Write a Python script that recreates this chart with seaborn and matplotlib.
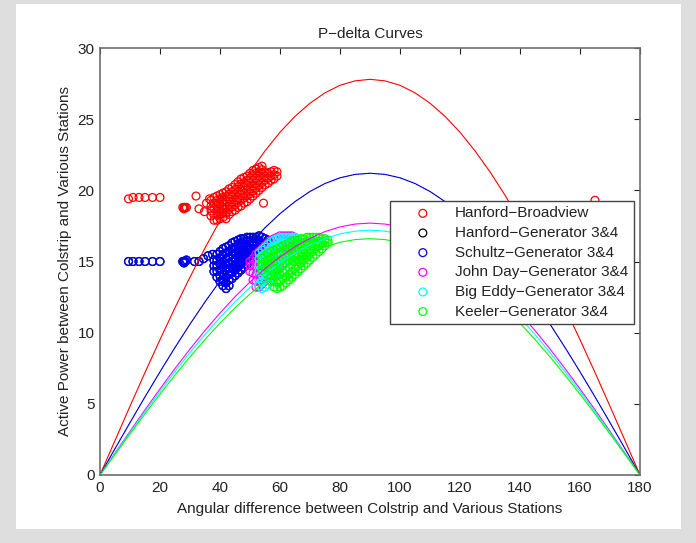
"""
P-delta curves with measured operating points
"""

import matplotlib
matplotlib.use("Agg")
import matplotlib.pyplot as plt
from matplotlib.patches import Rectangle
import seaborn as sns

sns.set_style("white")
plt.rcParams['font.family'] = ['Liberation Sans', 'DejaVu Sans']

# angle grid for the P-delta curves (degrees), 0..90 then mirrored
delta_half = [0, 5, 10, 15, 20, 25, 30, 35, 40, 45,
              50, 55, 60, 65, 70, 75, 80, 85, 90]
delta = delta_half + [180 - d for d in reversed(delta_half[:-1])]

# curve values (MW), rising half; curves are symmetric
half_broadview = [0, 2.42, 4.83, 7.2, 9.51, 11.75, 13.9, 15.95, 17.87, 19.66,
                  21.3, 22.77, 24.08, 25.2, 26.12, 26.85, 27.38, 27.69, 27.8]
half_hanford = [0, 1.85, 3.68, 5.49, 7.25, 8.96, 10.6, 12.16, 13.63, 14.99,
                16.24, 17.37, 18.36, 19.21, 19.92, 20.48, 20.88, 21.12, 21.2]
half_schultz = half_hanford
half_johnday = [0, 1.54, 3.07, 4.58, 6.05, 7.48, 8.85, 10.15, 11.38, 12.52,
                13.56, 14.5, 15.33, 16.04, 16.63, 17.1, 17.43, 17.63, 17.7]
half_bigeddy = [0, 1.5, 2.99, 4.45, 5.88, 7.27, 8.6, 9.87, 11.06, 12.16,
                13.18, 14.09, 14.9, 15.59, 16.16, 16.61, 16.94, 17.13, 17.2]
half_keeler = [0, 1.45, 2.88, 4.3, 5.68, 7.02, 8.3, 9.52, 10.67, 11.74,
               12.72, 13.6, 14.38, 15.04, 15.6, 16.03, 16.35, 16.54, 16.6]

# measured points, grouped by angle column: (angle, [powers])
red_pts = [(9.5, [19.4]), (11.0, [19.5]), (13.0, [19.5]), (15.0, [19.5]),
           (17.5, [19.5]), (20.0, [19.5]),
           (27.6, [18.8]), (28.0, [18.7, 18.8]), (28.4, [18.8]), (28.8, [18.8]),
           (32.0, [19.6]), (33.0, [18.7]), (34.8, [18.5]), (35.5, [19.1]),
           (36.5, [19.4]),
           (37.0, [18.2, 18.55, 18.9, 19.3]),
           (38.0, [17.9, 18.3, 18.7, 19.1, 19.5]),
           (39.0, [17.9, 18.25, 18.6, 18.95, 19.3, 19.6]),
           (40.0, [18.0, 18.35, 18.7, 19.05, 19.4, 19.7]),
           (41.0, [18.1, 18.45, 18.8, 19.15, 19.5, 19.8]),
           (42.0, [18.0, 18.4, 18.8, 19.2, 19.55, 19.9]),
           (43.0, [18.3, 18.65, 19.0, 19.4, 19.75, 20.1]),
           (44.0, [18.5, 18.85, 19.2, 19.55, 19.9, 20.2]),
           (45.0, [18.6, 18.95, 19.3, 19.7, 20.05, 20.4]),
           (46.0, [18.8, 19.15, 19.5, 19.9, 20.25, 20.6]),
           (47.0, [18.9, 19.3, 19.7, 20.05, 20.45, 20.8]),
           (48.0, [19.1, 19.45, 19.8, 20.2, 20.55, 20.9]),
           (49.0, [19.2, 19.6, 20.0, 20.35, 20.7, 21.0]),
           (50.0, [19.4, 19.75, 20.1, 20.5, 20.85, 21.2]),
           (51.0, [19.6, 19.95, 20.3, 20.7, 21.05, 21.4]),
           (52.0, [19.8, 20.15, 20.5, 20.85, 21.2, 21.5]),
           (53.0, [20.0, 20.35, 20.7, 21.0, 21.3, 21.6]),
           (54.0, [20.2, 20.55, 20.9, 21.2, 21.45, 21.7]),
           (55.0, [20.4, 20.7, 21.0, 21.3]),
           (56.0, [20.5, 20.85, 21.2]),
           (57.0, [20.7, 21.0, 21.3]),
           (58.0, [20.8, 21.1, 21.4]),
           (59.0, [21.0, 21.3]),
           (54.5, [19.1]), (165.0, [19.3])]

blue_pts = [(9.5, [15.0]), (11.0, [15.0]), (13.0, [15.0]), (15.0, [15.0]),
            (17.5, [15.0]), (20.0, [15.0]),
            (27.6, [15.0]), (28.0, [14.9, 15.0]), (28.4, [15.0]), (28.8, [15.1]),
            (31.5, [15.0]), (33.0, [15.0]), (34.5, [15.2]), (36.0, [15.4]),
            (37.5, [15.5]),
            (38.0, [14.3, 14.7, 15.1]),
            (39.0, [13.9, 14.3, 14.7, 15.1, 15.5]),
            (40.0, [13.6, 14.0, 14.4, 14.8, 15.2, 15.7]),
            (41.0, [13.3, 13.7, 14.1, 14.6, 15.0, 15.5, 15.9]),
            (42.0, [13.1, 13.5, 13.9, 14.4, 14.8, 15.2, 15.6, 16.0]),
            (43.0, [13.3, 13.7, 14.1, 14.5, 14.9, 15.3, 15.7, 16.1]),
            (44.0, [13.8, 14.2, 14.6, 15.0, 15.5, 15.9, 16.3]),
            (45.0, [14.0, 14.4, 14.8, 15.2, 15.6, 16.0, 16.4]),
            (46.0, [14.2, 14.6, 15.0, 15.4, 15.8, 16.2, 16.5]),
            (47.0, [14.4, 14.8, 15.2, 15.6, 16.0, 16.3, 16.6]),
            (48.0, [14.6, 15.0, 15.4, 15.8, 16.2, 16.6]),
            (49.0, [14.8, 15.2, 15.6, 16.0, 16.4, 16.7]),
            (50.0, [15.0, 15.4, 15.8, 16.1, 16.4, 16.7]),
            (51.0, [15.2, 15.6, 15.9, 16.3, 16.7]),
            (52.0, [15.4, 15.8, 16.1, 16.4, 16.7]),
            (53.0, [15.6, 16.0, 16.4, 16.8]),
            (54.0, [15.8, 16.2, 16.7]),
            (55.0, [16.0, 16.3, 16.6]),
            (56.0, [16.2, 16.5])]

# Hanford generator points coincide with Schultz and sit underneath them
black_pts = blue_pts

magenta_pts = [(50.0, [14.3, 14.7, 15.0]),
               (51.0, [13.7, 14.2, 14.7, 15.2]),
               (52.0, [13.2, 13.6, 14.1, 14.6, 15.0, 15.5]),
               (53.0, [13.2, 13.7, 14.2, 14.7, 15.2, 15.7]),
               (54.0, [13.4, 13.9, 14.4, 14.9, 15.4, 15.9]),
               (55.0, [13.6, 14.1, 14.6, 15.1, 15.6, 16.1]),
               (56.0, [13.8, 14.3, 14.8, 15.3, 15.8, 16.3]),
               (57.0, [14.0, 14.5, 15.0, 15.5, 16.0, 16.5]),
               (58.0, [14.3, 14.8, 15.3, 15.8, 16.2, 16.6]),
               (59.0, [14.6, 15.1, 15.6, 16.1, 16.7]),
               (60.0, [14.9, 15.4, 15.9, 16.4, 16.8]),
               (61.0, [15.2, 15.7, 16.2, 16.8]),
               (62.0, [15.5, 16.0, 16.4, 16.8]),
               (63.0, [15.8, 16.3, 16.8]),
               (64.0, [16.1, 16.5, 16.8]),
               (65.0, [16.4, 16.7])]

cyan_pts = [(53.0, [13.3, 13.8, 14.3, 14.8, 15.2, 15.6]),
            (54.0, [13.1, 13.6, 14.1, 14.5, 15.0, 15.4, 15.8]),
            (55.0, [13.2, 13.7, 14.1, 14.6, 15.1, 15.5, 16.0]),
            (56.0, [13.4, 13.9, 14.3, 14.8, 15.3, 15.7, 16.2]),
            (57.0, [13.6, 14.1, 14.6, 15.0, 15.5, 16.0, 16.4]),
            (58.0, [13.9, 14.4, 14.8, 15.3, 15.7, 16.1, 16.5]),
            (59.0, [14.2, 14.7, 15.1, 15.6, 16.1, 16.6]),
            (60.0, [14.5, 15.0, 15.4, 15.9, 16.3, 16.7]),
            (61.0, [14.8, 15.3, 15.8, 16.3, 16.7]),
            (62.0, [15.1, 15.6, 16.1, 16.7]),
            (63.0, [15.4, 15.9, 16.3, 16.7]),
            (64.0, [15.7, 16.2, 16.7]),
            (65.0, [16.0, 16.4, 16.7]),
            (66.0, [16.3, 16.6])]

green_pts = [(54.0, [14.4, 14.8, 15.2]),
             (55.0, [14.2, 14.6, 15.0, 15.4]),
             (56.0, [14.0, 14.4, 14.8, 15.2, 15.6]),
             (57.0, [13.6, 14.0, 14.5, 14.9, 15.3, 15.7]),
             (58.0, [13.2, 13.6, 14.1, 14.5, 15.0, 15.4, 15.8]),
             (59.0, [13.1, 13.5, 14.0, 14.4, 14.9, 15.4, 15.9]),
             (60.0, [13.2, 13.6, 14.1, 14.6, 15.1, 15.6, 16.0]),
             (61.0, [13.3, 13.8, 14.2, 14.7, 15.2, 15.7, 16.1]),
             (62.0, [13.5, 13.9, 14.4, 14.9, 15.3, 15.8, 16.2]),
             (63.0, [13.7, 14.1, 14.6, 15.0, 15.5, 15.9, 16.3]),
             (64.0, [13.9, 14.3, 14.8, 15.2, 15.6, 16.0, 16.4]),
             (65.0, [14.1, 14.5, 15.0, 15.4, 15.8, 16.2, 16.5]),
             (66.0, [14.3, 14.7, 15.1, 15.5, 15.9, 16.2, 16.5]),
             (67.0, [14.5, 14.9, 15.3, 15.7, 16.1, 16.6]),
             (68.0, [14.7, 15.1, 15.5, 15.9, 16.3, 16.6]),
             (69.0, [14.9, 15.3, 15.7, 16.1, 16.4, 16.7]),
             (70.0, [15.1, 15.5, 15.9, 16.3, 16.7]),
             (71.0, [15.3, 15.7, 16.1, 16.4, 16.7]),
             (72.0, [15.5, 15.9, 16.3, 16.7]),
             (73.0, [15.7, 16.1, 16.4, 16.7]),
             (74.0, [15.9, 16.3, 16.6]),
             (75.0, [16.1, 16.4, 16.6]),
             (76.0, [16.3, 16.5])]

series_names = ['Hanford\u2212Broadview', 'Hanford\u2212Generator 3&4',
                'Schultz\u2212Generator 3&4', 'John Day\u2212Generator 3&4',
                'Big Eddy\u2212Generator 3&4', 'Keeler\u2212Generator 3&4']


def flatten(cols):
    xs, ys = [], []
    for x, vals in cols:
        for v in vals:
            xs.append(x)
            ys.append(v)
    return xs, ys


def mirror(half):
    return half + list(reversed(half[:-1]))


fig = plt.figure(figsize=(6.96, 5.43), dpi=100, facecolor='#dedede')
# white panel inside the gray frame
fig.patches.append(Rectangle((16 / 696, 14 / 543), 665 / 696, 525 / 543,
                             transform=fig.transFigure, facecolor='white',
                             edgecolor='none', zorder=-10))

ax = fig.add_axes([100 / 696, 68 / 543, 540 / 696, 427 / 543])

colors = ['#ff0000', '#000000', '#0000ff', '#ff00ff', '#00ffff', '#00ff00']
point_sets = [red_pts, black_pts, blue_pts, magenta_pts, cyan_pts, green_pts]
curves = [half_broadview, half_hanford, half_schultz,
          half_johnday, half_bigeddy, half_keeler]

for name, pts, col in zip(series_names, point_sets, colors):
    xs, ys = flatten(pts)
    sns.scatterplot(x=xs, y=ys, ax=ax, marker='o', s=32, facecolors='none',
                    edgecolors=col, linewidths=0.9, label=name, zorder=2)

for half, col in zip(curves, colors):
    if col == '#000000':
        continue
    sns.lineplot(x=delta, y=mirror(half), ax=ax, color=col, linewidth=0.8,
                 estimator=None, sort=False, legend=False, zorder=3)

# the Hanford generator curve shows through the Schultz one as dark dots
sns.lineplot(x=delta, y=mirror(half_hanford), ax=ax, color='#000000',
             linewidth=0.6, linestyle=(0, (1, 2)), alpha=0.6,
             estimator=None, sort=False, legend=False, zorder=4)

ax.set_xlim(0, 180)
ax.set_ylim(0, 30)
ax.set_xticks(range(0, 181, 20))
ax.set_yticks(range(0, 31, 5))
ax.tick_params(direction='in', length=4, width=0.8, top=True, right=True,
               labelsize=11, colors='#222222', pad=4)
for sp in ax.spines.values():
    sp.set_color('#6e6e6e')
    sp.set_linewidth(1.2)

ax.set_title('P\u2212delta Curves', fontsize=11, pad=7, color='#222222')
ax.set_xlabel('Angular difference between Colstrip and Various Stations',
              fontsize=11, labelpad=5, color='#222222')
ax.set_ylabel('Active Power between Colstrip and Various Stations',
              fontsize=11, labelpad=4, color='#222222')

leg = ax.legend(loc='upper left', bbox_to_anchor=(290 / 540, 274 / 427),
                fontsize=11, frameon=True, fancybox=False, framealpha=1,
                edgecolor='#444444', borderpad=0.35, labelspacing=0.37,
                handletextpad=0.3, handlelength=3.6, borderaxespad=0)
leg.get_frame().set_linewidth(1.0)
for t in leg.get_texts():
    t.set_color('#222222')

fig.savefig('out.png', dpi=100, facecolor=fig.get_facecolor())
